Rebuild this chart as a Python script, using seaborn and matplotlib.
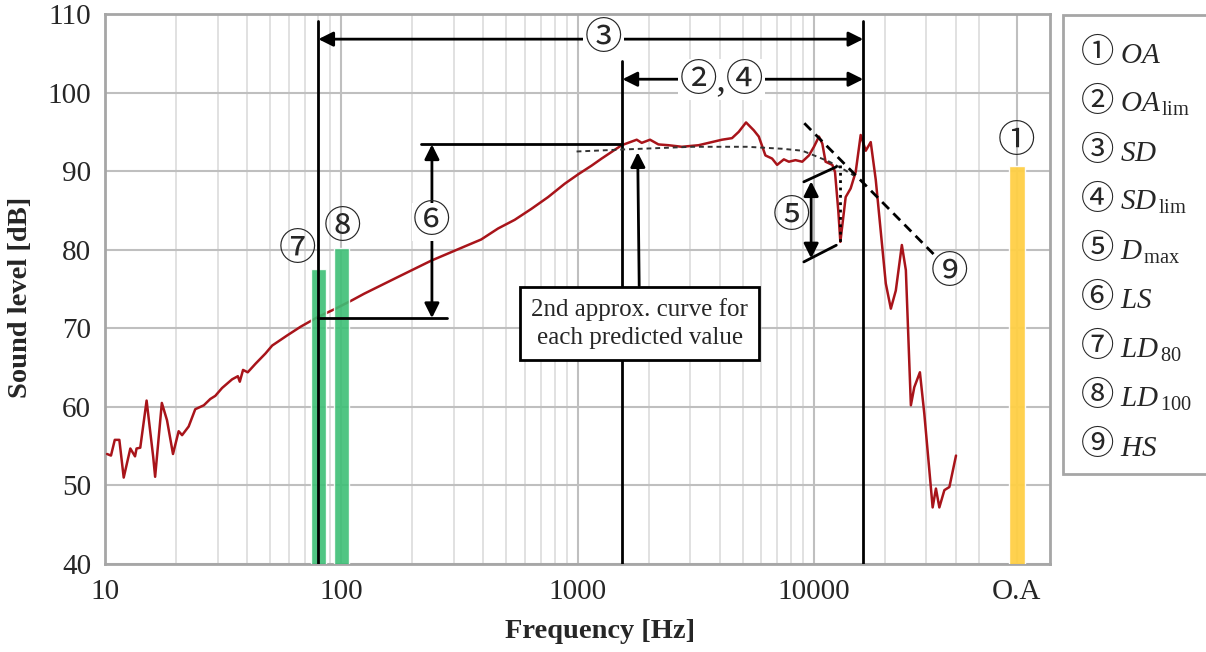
import numpy as np
import pandas as pd
import seaborn as sns
import matplotlib.pyplot as plt
from matplotlib.patches import Rectangle
from matplotlib.ticker import NullFormatter

freq = [10.2, 10.6, 11.0, 11.5, 12.0, 12.8, 13.4, 13.6, 14.1, 15.0, 16.0, 16.3, 17.4, 18.3,
        19.4, 20.5, 21.2, 22.6, 24.1, 26.2, 27.9, 29.3, 31.3, 34.5, 36.5, 37.2, 38.4, 40.2,
        43.4, 47.8, 51.0, 59.1, 67.3, 79.2, 93.2, 111.6, 125, 173, 240, 332, 391, 461, 542,
        638, 751, 883, 1007, 1147, 1265, 1538, 1781, 1870, 2028, 2201, 2428, 2764, 3255,
        3589, 4088, 4508, 4813, 5169, 5574, 5853, 6243, 6664, 6998, 7472, 7847, 8371, 8938,
        9541, 10020, 10520, 10870, 11220, 11985, 12300, 12700, 12960, 13650, 14330, 15050,
        15800, 16600, 17425, 18300, 20180, 21200, 22250, 23600, 24540, 25770, 26640, 28140,
        29380, 31860, 32900, 34010, 35720, 37510, 40010]
level = [54.0, 53.8, 55.8, 55.8, 51.0, 54.7, 53.7, 54.7, 54.8, 60.8, 53.6, 51.1, 60.5, 58.3,
         54.0, 56.9, 56.4, 57.5, 59.7, 60.2, 61.0, 61.4, 62.4, 63.5, 63.9, 63.2, 64.7, 64.4,
         65.5, 66.8, 67.8, 69.1, 70.2, 71.4, 72.4, 73.6, 74.4, 76.5, 78.6, 80.4, 81.3, 82.7, 83.8,
         85.2, 86.7, 88.4, 89.6, 90.7, 91.6, 93.3, 94.0, 93.6, 94.0, 93.4, 93.3, 93.1, 93.3,
         93.6, 94.0, 94.2, 95.0, 96.2, 95.2, 94.4, 92.0, 91.6, 90.8, 91.5, 91.2, 91.4, 91.2,
         92.0, 93.1, 94.4, 93.5, 91.2, 90.8, 89.9, 85.0, 81.0, 86.7, 87.8, 89.9,
         94.6, 92.6, 93.7, 88.9, 75.7, 72.5, 74.8, 80.6, 77.4, 60.2, 62.5, 64.4,
         59.1, 47.2, 49.6, 47.2, 49.4, 49.8, 53.8]

# 2nd order approximation curve
approx_freq = [991, 1538, 3048, 5220, 7345, 8938, 9850, 11640, 13600, 14860]
approx_level = [92.5, 92.75, 93.1, 93.1, 92.85, 92.6, 92.1, 91.2, 90.1, 89.4]

# HS slope line
hs_freq = [9120, 32500]
hs_level = [96.1, 79.3]

# LD bars and overall value
ld_freq = [80, 100]
ld_level = [77.5, 80.2]
oa_freq = 72400
oa_level = 90.6

# characteristic frequencies
f_low = 80
f_lim = 1550
f_high = 16200
ls_top = 93.4
ls_bottom = 71.3

xtick_pos = [10, 100, 1000, 10000, oa_freq]
xtick_lab = ['10', '100', '1000', '10000', 'O.A']

legend_keys = ['①', '②', '③', '④', '⑤', '⑥', '⑦', '⑧', '⑨']
legend_names = [r'$OA$', r'$OA_{\,\mathrm{lim}}$', r'$SD$', r'$SD_{\,\mathrm{lim}}$',
                r'$D_{\,\mathrm{max}}$', r'$LS$', r'$LD_{\,80}$', r'$LD_{\,100}$', r'$HS$']

sns.set_style('white')
plt.rcParams['font.family'] = ['Liberation Serif', 'Noto Sans CJK JP']
plt.rcParams['mathtext.fontset'] = 'custom'
plt.rcParams['mathtext.rm'] = 'Liberation Serif'
plt.rcParams['mathtext.it'] = 'Liberation Serif:italic'

W, H = 1206, 652
fig = plt.figure(figsize=(W / 100, H / 100), dpi=100)
ax = fig.add_axes([105 / W, 1 - 564 / H, 945 / W, 550 / H])

df = pd.DataFrame({'Frequency': freq, 'Level': level})
sns.lineplot(data=df, x='Frequency', y='Level', ax=ax, color='#A8141A', lw=1.8, zorder=3)

ax.set_xscale('log')
ax.set_xlim(10, 1e5)
ax.set_ylim(40, 110)

# bars
k = 1.076
ld_left = [f / k for f in ld_freq]
ld_w = [f * k - f / k for f in ld_freq]
ax.bar(ld_left, ld_level, width=ld_w, align='edge', color='#3DBF76', alpha=0.9, zorder=4)
ax.bar([oa_freq / 1.081], [oa_level], width=[oa_freq * 1.081 - oa_freq / 1.081],
       align='edge', color='#FFCF45', alpha=0.95, zorder=4)

# grid / axes
minor = [m * 10 ** d for d in range(1, 5) for m in range(2, 10) if m * 10 ** d <= 50000]
ax.set_xticks(xtick_pos)
ax.set_xticklabels(xtick_lab)
ax.set_xticks(minor, minor=True)
ax.xaxis.set_minor_formatter(NullFormatter())
ax.set_yticks(range(40, 111, 10))
ax.grid(which='major', color='#BFBFBF', lw=1.5)
ax.grid(which='minor', axis='x', color='#DCDCDC', lw=1.2)
ax.set_axisbelow(True)
for s in ax.spines.values():
    s.set_color('#A6A6A6')
    s.set_linewidth(2)
ax.tick_params(which='both', length=0, labelsize=21)
ax.tick_params(axis='y', pad=10)
ax.tick_params(axis='x', pad=11)

ax.set_xlabel('Frequency [Hz]', fontsize=20.5, fontweight='bold')
ax.set_ylabel('Sound level [dB]', fontsize=20.5, fontweight='bold')
ax.xaxis.set_label_coords(0.524, -0.10)
ax.yaxis.set_label_coords(-0.076, 0.484)

lk = dict(color='black', lw=2, zorder=5)
ax.plot([f_low, f_low], [40, 109.1], **lk)
ax.plot([f_lim, f_lim], [40, 104.0], **lk)
ax.plot([f_high, f_high], [40, 109.1], **lk)

ap = dict(arrowstyle='<|-|>', color='black', lw=2, mutation_scale=22, shrinkA=0, shrinkB=0)
ax.annotate('', xy=(f_low, 106.8), xytext=(f_high, 106.8), arrowprops=ap, zorder=5)
ax.annotate('', xy=(f_lim, 101.7), xytext=(f_high, 101.7), arrowprops=ap, zorder=5)

cfs = 27
bb = dict(fc='white', ec='none', pad=1)
ax.text(10 ** 3.11, 106.8, '③', fontsize=cfs, ha='center', va='center', bbox=bb, zorder=6)
ax.text(10 ** 3.61, 101.7, '②,④', fontsize=cfs, ha='center', va='center', bbox=bb, zorder=6)

# LS
ax.plot([217.6, f_lim], [ls_top, ls_top], **lk)
ax.plot([f_low, 280.5], [ls_bottom, ls_bottom], **lk)
ax.annotate('', xy=(242, ls_top), xytext=(242, ls_bottom), arrowprops=ap, zorder=5)
ax.text(242, 83.5, '⑥', fontsize=cfs, ha='center', va='center', bbox=bb, zorder=6)

# approx curve
ax.plot(approx_freq, approx_level, color='#333333', lw=1.4, dashes=(2.5, 2), zorder=5)
ax.annotate('2nd approx. curve for\neach predicted value', xy=(1798, 92.4), xytext=(1832, 70.6),
            fontsize=18, ha='center', va='center', linespacing=1.35, zorder=7,
            bbox=dict(boxstyle='square,pad=0.45', fc='white', ec='black', lw=2),
            arrowprops=dict(arrowstyle='-|>', color='black', lw=2, mutation_scale=22,
                            shrinkA=0, shrinkB=0))

# Dmax
ax.plot([9080, 12460], [88.64, 90.55], **lk)
ax.plot([9080, 12460], [78.45, 80.57], **lk)
ax.plot([12880, 12880], [90.8, 80.8], color='black', lw=2, ls=':', zorder=5)
ax.annotate('', xy=(9750, 88.7), xytext=(9750, 78.9), arrowprops=ap, zorder=5)
ax.text(8020, 84.1, '⑤', fontsize=cfs, ha='center', va='center', zorder=6)

# HS
ax.plot(hs_freq, hs_level, color='black', lw=2, dashes=(3.5, 2.2), zorder=5)
ax.text(37600, 77.0, '⑨', fontsize=cfs, ha='center', va='center', zorder=6)

ax.text(65.3, 79.9, '⑦', fontsize=cfs, ha='center', va='center', zorder=6)
ax.text(101.5, 82.7, '⑧', fontsize=cfs, ha='center', va='center', zorder=6)
ax.text(71800, 93.6, '①', fontsize=cfs, ha='center', va='center', zorder=6)

# legend box
fig.patches.append(Rectangle((1063 / W, 1 - 474 / H), 160 / W, 459 / H, transform=fig.transFigure,
                             fc='white', ec='#A6A6A6', lw=2))
for i, (key, name) in enumerate(zip(legend_keys, legend_names)):
    yc = 53 + 49.1 * i
    fig.text(1098 / W, 1 - yc / H, key, fontsize=24, ha='center', va='center')
    fig.text(1120 / W, 1 - (yc + 10) / H, name, fontsize=21, ha='left', va='baseline')

fig.savefig('out.png', dpi=100)
